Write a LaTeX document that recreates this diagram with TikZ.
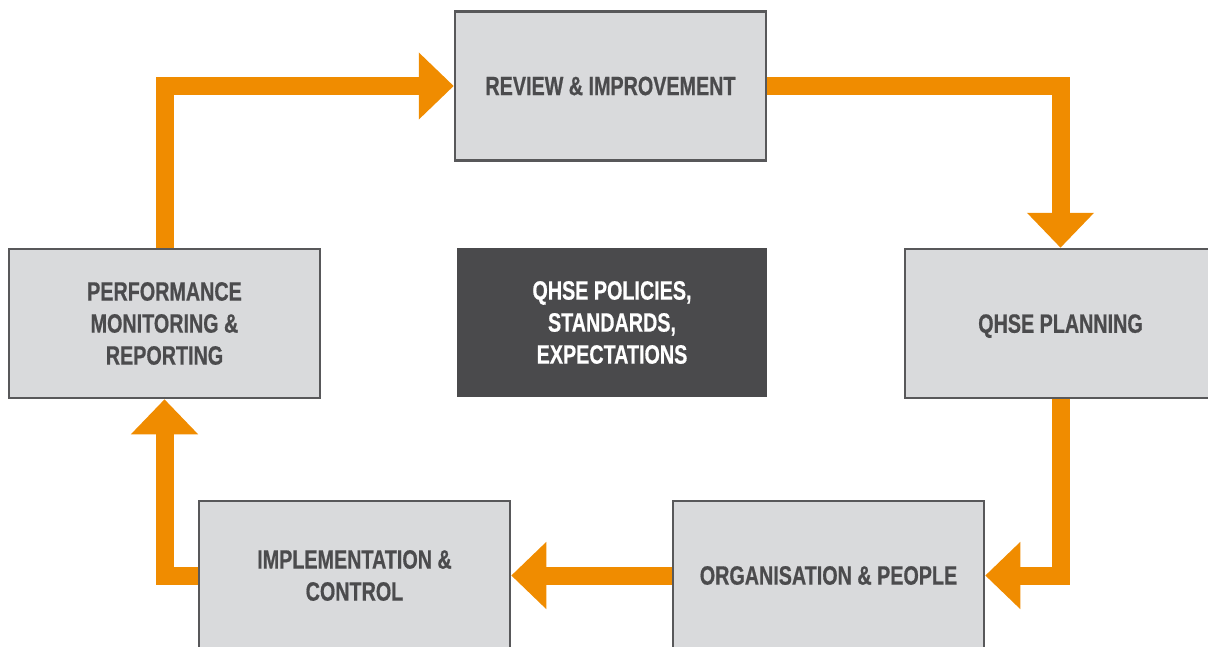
\documentclass[tikz,border=0pt]{standalone}
\usepackage{fontspec}
\setmainfont{Liberation Sans}[FakeStretch=0.745,FakeBold=0.6]
\usetikzlibrary{arrows.meta}
\definecolor{boxfill}{HTML}{D9DADC}
\definecolor{boxline}{HTML}{58585A}
\definecolor{boxtext}{HTML}{4B4B4D}
\definecolor{darkbox}{HTML}{4A4A4C}
\definecolor{flow}{HTML}{F08C00}
\begin{document}
\begin{tikzpicture}[x=1pt,y=-1pt,
  stagebox/.style={draw=boxline, line width=2.5pt, fill=boxfill, text=boxtext,
    minimum width=311pt, minimum height=149pt, align=center, inner sep=0pt,
    font=\fontsize{26.5}{32}\selectfont\bfseries},
  policybox/.style={fill=darkbox, text=white,
    minimum width=310pt, minimum height=149pt, align=center, inner sep=0pt,
    font=\fontsize{26.5}{32}\selectfont\bfseries},
  flowarrow/.style={draw=flow, line width=18pt, line join=miter, line cap=butt,
    -{Triangle[length=35pt,width=65pt]}}]
\useasboundingbox (0,0) rectangle (1208,646);
\clip (0,0) rectangle (1208,646);
\node[stagebox] (rev) at (610.5,86) {REVIEW \& IMPROVEMENT};
\node[stagebox] (perf) at (164.5,323.5) {PERFORMANCE\\MONITORING \&\\REPORTING};
\node[policybox] (pol) at (612,322.5) {QHSE POLICIES,\\STANDARDS,\\EXPECTATIONS};
\node[stagebox, text depth=0pt] (plan) at (1060.5,323.5) {QHSE PLANNING};
\node[stagebox] (org) at (828.5,575.5) {ORGANISATION \& PEOPLE};
\node[stagebox] (impl) at (354.5,575.5) {IMPLEMENTATION \&\\CONTROL};
\draw[flowarrow] (perf.north) |- (rev.west);
\draw[flowarrow] (rev.east) -| (plan.north);
\draw[flowarrow] (plan.south) |- (org.east);
\draw[flowarrow] (org.west) -- (impl.east);
\draw[flowarrow] (impl.west) -| (perf.south);
\end{tikzpicture}
\end{document}
